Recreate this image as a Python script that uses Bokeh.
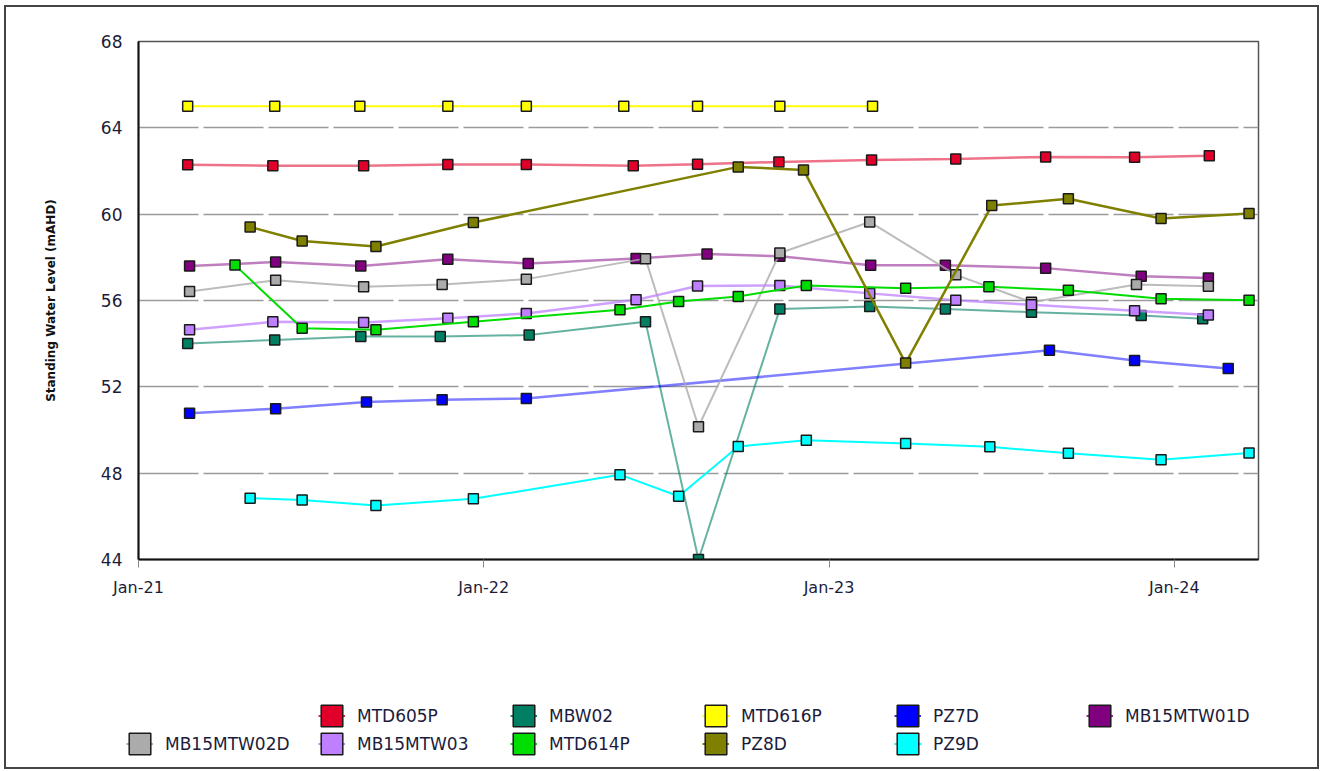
import pandas as pd
from bokeh.plotting import figure
from bokeh.layouts import column
from bokeh.models import Legend, LegendItem, FixedTicker, DatetimeTickFormatter, Range1d
from bokeh.embed import file_html
from bokeh.resources import INLINE

# ---------------- data ----------------
mtd605p_dates = ["2021-02-22", "2021-05-23", "2021-08-27", "2021-11-24", "2022-02-15", "2022-06-08",
                 "2022-08-15", "2022-11-09", "2023-02-15", "2023-05-15", "2023-08-18", "2023-11-20", "2024-02-07"]
mtd605p_vals = [62.29, 62.24, 62.24, 62.30, 62.30, 62.24, 62.31, 62.42, 62.51, 62.56, 62.65, 62.64, 62.71]

mbw02_dates = ["2021-02-22", "2021-05-25", "2021-08-24", "2021-11-16", "2022-02-18", "2022-06-21",
               "2022-08-16", "2022-11-10", "2023-02-13", "2023-05-04", "2023-08-03", "2023-11-27", "2024-01-31"]
mbw02_vals = [54.01, 54.17, 54.33, 54.33, 54.40, 55.01, 44.00, 55.61, 55.72, 55.61, 55.46, 55.30, 55.15]

mtd616p_dates = ["2021-02-22", "2021-05-25", "2021-08-23", "2021-11-24", "2022-02-15", "2022-05-29",
                 "2022-08-15", "2022-11-10", "2023-02-16"]
mtd616p_vals = [65.0, 65.0, 65.0, 65.0, 65.0, 65.0, 65.0, 65.0, 65.0]

pz7d_dates = ["2021-02-24", "2021-05-26", "2021-08-30", "2021-11-18", "2022-02-15",
              "2023-08-22", "2023-11-20", "2024-02-27"]
pz7d_vals = [50.78, 50.99, 51.30, 51.40, 51.46, 53.69, 53.22, 52.85]

mb15mtw01d_dates = ["2021-02-24", "2021-05-26", "2021-08-24", "2021-11-24", "2022-02-17", "2022-06-11",
                    "2022-08-25", "2022-11-10", "2023-02-14", "2023-05-04", "2023-08-18", "2023-11-27", "2024-02-06"]
mb15mtw01d_vals = [57.60, 57.78, 57.60, 57.91, 57.72, 57.95, 58.15, 58.05, 57.63, 57.63, 57.50, 57.12, 57.04]

mb15mtw02d_dates = ["2021-02-24", "2021-05-26", "2021-08-27", "2021-11-18", "2022-02-15", "2022-06-21",
                    "2022-08-16", "2022-11-10", "2023-02-13", "2023-05-15", "2023-08-03", "2023-11-22", "2024-02-06"]
mb15mtw02d_vals = [56.42, 56.94, 56.64, 56.74, 56.99, 57.94, 50.15, 58.20, 59.64, 57.19, 55.92, 56.74, 56.66]

mb15mtw03_dates = ["2021-02-24", "2021-05-23", "2021-08-27", "2021-11-24", "2022-02-15", "2022-06-11",
                   "2022-08-15", "2022-11-10", "2023-02-13", "2023-05-15", "2023-08-03", "2023-11-20", "2024-02-06"]
mb15mtw03_vals = [54.64, 55.01, 54.98, 55.18, 55.40, 56.03, 56.67, 56.70, 56.33, 56.01, 55.80, 55.52, 55.33]

mtd614p_dates = ["2021-04-13", "2021-06-23", "2021-09-09", "2021-12-21", "2022-05-25", "2022-07-26",
                 "2022-09-27", "2022-12-08", "2023-03-23", "2023-06-19", "2023-09-11", "2023-12-18", "2024-03-20"]
mtd614p_vals = [57.64, 54.71, 54.64, 55.02, 55.57, 55.95, 56.19, 56.70, 56.57, 56.64, 56.47, 56.08, 56.01]

pz8d_dates = ["2021-04-29", "2021-06-23", "2021-09-09", "2021-12-21", "2022-09-27", "2022-12-05",
              "2023-03-23", "2023-06-22", "2023-09-11", "2023-12-18", "2024-03-20"]
pz8d_vals = [59.41, 58.76, 58.50, 59.61, 62.19, 62.05, 53.10, 60.40, 60.71, 59.80, 60.03]

pz9d_dates = ["2021-04-29", "2021-06-23", "2021-09-09", "2021-12-21", "2022-05-25", "2022-07-26",
              "2022-09-27", "2022-12-08", "2023-03-23", "2023-06-20", "2023-09-11", "2023-12-18", "2024-03-20"]
pz9d_vals = [46.84, 46.76, 46.50, 46.81, 47.93, 46.93, 49.24, 49.53, 49.38, 49.22, 48.92, 48.62, 48.93]

series_names = ["MTD605P", "MBW02", "MTD616P", "PZ7D", "MB15MTW01D",
                "MB15MTW02D", "MB15MTW03", "MTD614P", "PZ8D", "PZ9D"]
series_dates = [mtd605p_dates, mbw02_dates, mtd616p_dates, pz7d_dates, mb15mtw01d_dates,
                mb15mtw02d_dates, mb15mtw03_dates, mtd614p_dates, pz8d_dates, pz9d_dates]
series_vals = [mtd605p_vals, mbw02_vals, mtd616p_vals, pz7d_vals, mb15mtw01d_vals,
               mb15mtw02d_vals, mb15mtw03_vals, mtd614p_vals, pz8d_vals, pz9d_vals]

y_ticks = [44, 48, 52, 56, 60, 64, 68]
x_tick_dates = ["2021-01-01", "2022-01-01", "2023-01-01", "2024-01-01"]

# ---------------- styles ----------------
colors = ["#E0002A", "#007F63", "#FFFF00", "#0000FF", "#800080",
          "#ABABAB", "#BF80FF", "#00DD00", "#808000", "#00FFFF"]
line_alpha = [0.55, 0.6, 1.0, 0.5, 0.5, 0.8, 0.75, 1.0, 1.0, 1.0]
line_w = [2.5, 2.0, 2.0, 2.5, 2.5, 2.0, 2.5, 2.0, 2.5, 2.0]

FONT = "DejaVu Sans"
TEXT_COL = "#1c1c3a"
W = 1311
LEG_H = 148

p = figure(x_axis_type="datetime", output_backend="svg", toolbar_location=None,
           frame_width=1120, frame_height=518,
           min_border_left=132, min_border_right=59, min_border_top=34, min_border_bottom=60,
           background_fill_color="white", border_fill_color="white")
p.x_range = Range1d(pd.Timestamp("2021-01-01"), pd.Timestamp("2024-03-30"))
p.y_range = Range1d(44, 68)

p.outline_line_color = "#555555"
p.outline_line_width = 1.5

p.xgrid.visible = False
p.ygrid.grid_line_color = "#9a9a9a"
p.ygrid.grid_line_width = 1.5
p.ygrid.grid_line_dash = "60 5"

p.yaxis.ticker = FixedTicker(ticks=y_ticks)
p.yaxis.major_tick_line_color = None
p.yaxis.minor_tick_line_color = None
p.yaxis.axis_line_color = "#111111"
p.yaxis.axis_line_width = 2
p.yaxis.major_label_standoff = 10
p.yaxis.major_label_text_font = FONT
p.yaxis.major_label_text_font_size = "17px"
p.yaxis.major_label_text_color = TEXT_COL
p.yaxis.axis_label = "Standing Water Level (mAHD)"
p.yaxis.axis_label_text_font = FONT
p.yaxis.axis_label_text_font_size = "12px"
p.yaxis.axis_label_text_font_style = "bold"
p.yaxis.axis_label_text_color = "#111111"
p.yaxis.axis_label_standoff = 40

x_ticks_ms = [pd.Timestamp(d).value / 1e6 for d in x_tick_dates]
p.xaxis.ticker = FixedTicker(ticks=x_ticks_ms)
fmt = "%b-%y"
p.xaxis.formatter = DatetimeTickFormatter(milliseconds=fmt, seconds=fmt, minsec=fmt, minutes=fmt,
                                          hourmin=fmt, hours=fmt, days=fmt, months=fmt, years=fmt)
p.xaxis.axis_line_color = "#111111"
p.xaxis.axis_line_width = 2
p.xaxis.major_tick_line_color = "#888888"
p.xaxis.major_tick_out = 8
p.xaxis.major_tick_in = 0
p.xaxis.minor_tick_line_color = None
p.xaxis.major_label_standoff = 10
p.xaxis.major_label_text_font = FONT
p.xaxis.major_label_text_font_size = "16px"
p.xaxis.major_label_text_color = TEXT_COL

# legend panel (separate figure so the legend is not clipped by the chart frame)
lf = figure(width=W, height=LEG_H, output_backend="svg", toolbar_location=None,
            x_axis_location=None, y_axis_location=None,
            x_range=Range1d(0, 1), y_range=Range1d(0, 1),
            min_border=0, min_border_left=0, min_border_right=0, min_border_top=0, min_border_bottom=0,
            background_fill_color="white", border_fill_color="white")
lf.frame_align = False
lf.outline_line_color = None
lf.grid.visible = False

# legend-key proxies sit outside lf's visible range; only their legend keys are seen
proxy = [-5.0]

items = []
blank = lf.line(x=proxy, y=proxy, line_alpha=0)
items.append(LegendItem(label=" ", renderers=[blank]))
for name, d, v, c, a, w in zip(series_names, series_dates, series_vals, colors, line_alpha, line_w):
    x = pd.to_datetime(d)
    p.line(x, v, line_color=c, line_width=w, line_alpha=a)
    p.scatter(x, v, marker="square", size=10, fill_color=c, line_color="#1a1a1a", line_width=1.5)
    key_line = lf.line(x=proxy, y=proxy, line_color=c, line_width=2, line_alpha=min(1.0, a + 0.3))
    key_box = lf.quad(left=proxy, right=proxy, top=proxy, bottom=proxy, fill_color=c,
                      line_color="#1a1a1a", line_width=1.5)
    items.append(LegendItem(label=name, renderers=[key_line, key_box]))

legend = Legend(items=items, ncols=6, orientation="horizontal",
                location=(120, 10),
                glyph_width=27, glyph_height=27, label_standoff=12, label_width=152,
                padding=0, margin=0, spacing=1,
                border_line_color=None, background_fill_alpha=0,
                label_text_font=FONT, label_text_font_size="17px", label_text_color=TEXT_COL)
lf.add_layout(legend, "center")

lay = column(p, lf, spacing=0,
             styles={"border": "2px solid #444444", "margin-left": "4px", "margin-top": "5px"})

open("out.html", "w").write(file_html(lay, INLINE))
